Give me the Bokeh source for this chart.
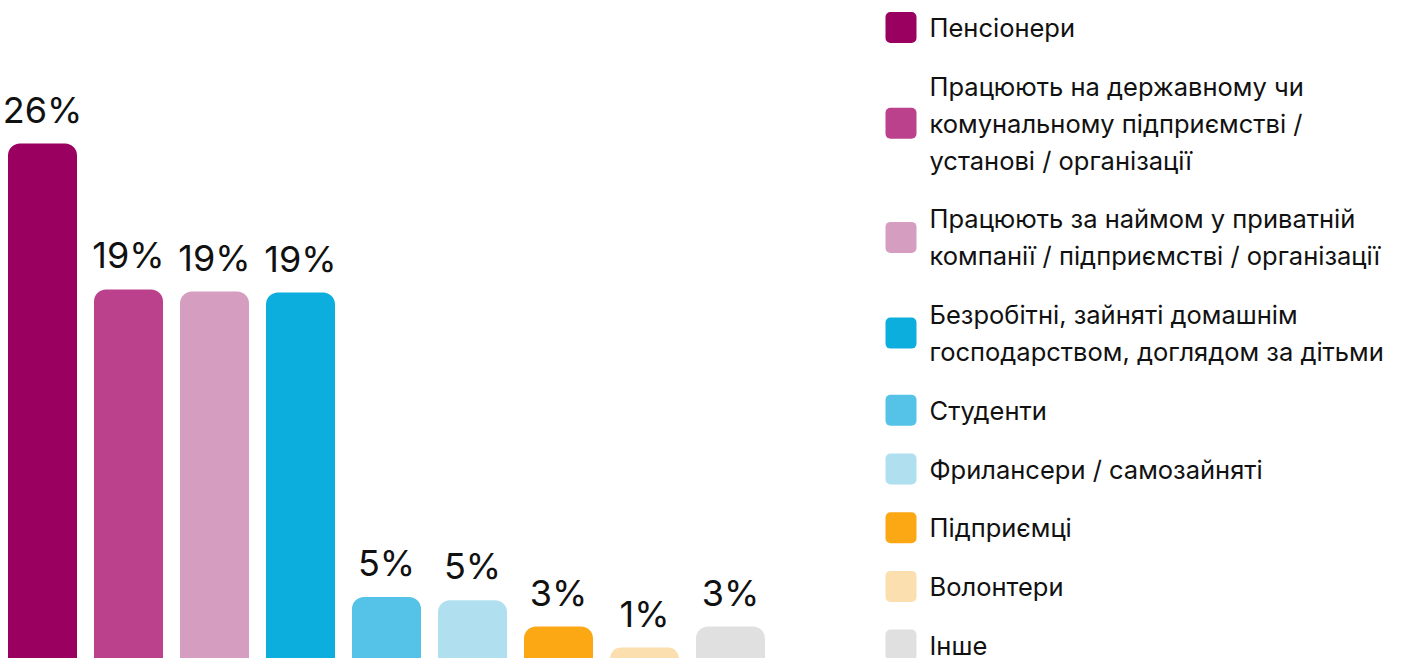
from bokeh.plotting import figure
from bokeh.layouts import row
from bokeh.models import Range1d, ColumnDataSource
from bokeh.core.properties import value
from bokeh.embed import file_html
from bokeh.resources import INLINE

# ---- data ----
categories = [
    "Пенсіонери",
    "Працюють на державному чи\nкомунальному підприємстві /\nустанові / організації",
    "Працюють за наймом у приватній\nкомпанії / підприємстві / організації",
    "Безробітні, зайняті домашнім\nгосподарством, доглядом за дітьми",
    "Студенти",
    "Фрилансери / самозайняті",
    "Підприємці",
    "Волонтери",
    "Інше",
]
values = [26.0, 19.05, 18.95, 18.9, 4.4, 4.25, 3.0, 2.0, 3.0]
labels = ["26%", "19%", "19%", "19%", "5%", "5%", "3%", "1%", "3%"]
colors = ["#9A0060", "#BC418D", "#D59DC0", "#0CAEDE", "#55C3E7",
          "#B0DFEF", "#FCA814", "#FBDFAE", "#E0E0E0"]

FONT = "Inter"

# ---- bar chart ----
W_TOTAL, H = 1409, 658
W1 = 870
PITCH = 86.0      # px per category
X0 = 42.0         # px from left edge to first bar center
PX_PER_UNIT = 21.0
BASE = 689.0      # px from top of figure to value 0 (below frame)

p1 = figure(width=W1, height=H, output_backend="svg", toolbar_location=None,
            min_border=0, min_border_left=0, min_border_right=0,
            min_border_top=0, min_border_bottom=0)
p1.x_range = Range1d(-X0 / PITCH, (W1 - X0) / PITCH)
p1.y_range = Range1d((BASE - H) / PX_PER_UNIT, BASE / PX_PER_UNIT)
p1.axis.visible = False
p1.grid.visible = False
p1.outline_line_color = None
p1.background_fill_color = "white"

xs = list(range(len(values)))
src = ColumnDataSource(dict(x=xs, top=values, color=colors, label=labels))
p1.vbar(x="x", top="top", bottom=-5, width=69 / PITCH, color="color",
        line_color=None, border_radius=(12, 12, 0, 0), source=src)
p1.text(x="x", y="top", text="label", source=src, text_align="center",
        text_baseline="alphabetic", y_offset=-34, text_color="#111111",
        text_font=value(FONT), text_font_size="36px")

# ---- legend (drawn in page-pixel coordinates) ----
W2 = W_TOTAL - W1
p2 = figure(width=W2, height=H, output_backend="svg", toolbar_location=None,
            min_border=0, min_border_left=0, min_border_right=0,
            min_border_top=0, min_border_bottom=0)
p2.x_range = Range1d(0, W2)
p2.y_range = Range1d(H, 0)
p2.axis.visible = False
p2.grid.visible = False
p2.outline_line_color = None

LINE_H = 37.0
GAP = 58.7
SQ = 31.0
y = 27.0
lx, ly, lt = [], [], []
my = []
for cat in categories:
    lines = cat.split("\n")
    ys = [y + k * LINE_H for k in range(len(lines))]
    for ln, yy in zip(lines, ys):
        lx.append(59.0)
        ly.append(yy)
        lt.append(ln)
    my.append(sum(ys) / len(ys))
    y = ys[-1] + GAP

msrc = ColumnDataSource(dict(
    left=[15.0] * len(my), right=[15.0 + SQ] * len(my),
    top=[m - SQ / 2 for m in my], bottom=[m + SQ / 2 for m in my],
    color=colors))
p2.quad(left="left", right="right", top="top", bottom="bottom",
        color="color", line_color=None, border_radius=5, source=msrc)
p2.text(x=lx, y=ly, text=lt, text_align="left", text_baseline="middle",
        text_color="#111111", text_font=value(FONT), text_font_size="25.5px")

layout = row(p1, p2, spacing=0)
open("out.html", "w").write(file_html(layout, INLINE))
